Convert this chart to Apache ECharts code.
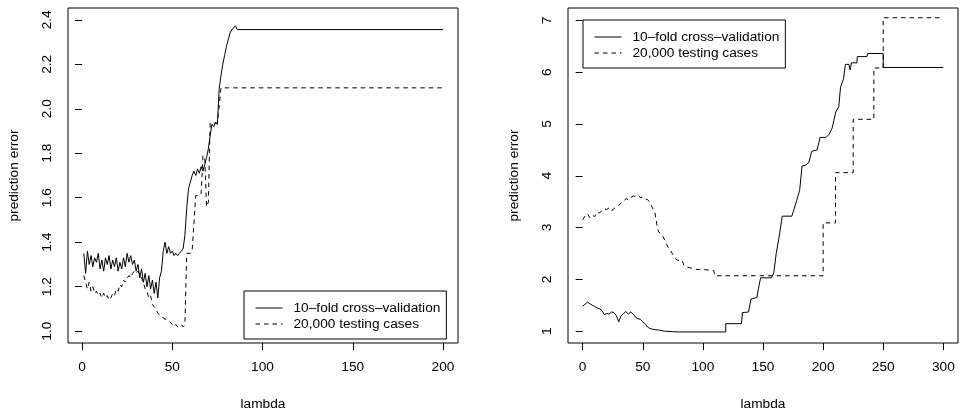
<!DOCTYPE html>
<html>
<head>
<meta charset="utf-8">
<title>prediction error vs lambda</title>
<script src="https://cdn.jsdelivr.net/npm/echarts@6/dist/echarts.min.js"></script>
<style>
  html, body { margin: 0; padding: 0; background: #fff; }
  #chart { width: 962px; height: 416px; }
</style>
</head>
<body>
<div id="chart"></div>
<script>
// left panel: lambda 1..86, then flat to 200
var leftLambda = [1, 2, 3, 4, 5, 6, 7, 8, 9, 10,
  11, 12, 13, 14, 15, 16, 17, 18, 19, 20,
  21, 22, 23, 24, 25, 26, 27, 28, 29, 30,
  31, 32, 33, 34, 35, 36, 37, 38, 39, 40,
  41, 42, 43, 44, 45, 46, 47, 48, 49, 50,
  51, 52, 53, 54, 55, 56, 57, 58, 59, 60,
  61, 62, 63, 64, 65, 66, 67, 68, 69, 70,
  71, 72, 73, 74, 75, 76, 77, 78, 79, 80,
  81, 82, 83, 84, 85, 86, 200]
var leftCv = [1.35, 1.26, 1.36, 1.30, 1.34, 1.29, 1.33, 1.31, 1.35, 1.28,
  1.32, 1.27, 1.33, 1.30, 1.34, 1.28, 1.32, 1.29, 1.33, 1.27,
  1.31, 1.28, 1.33, 1.29, 1.35, 1.31, 1.34, 1.30, 1.32, 1.27,
  1.30, 1.24, 1.28, 1.22, 1.26, 1.20, 1.25, 1.19, 1.23, 1.17,
  1.22, 1.15, 1.24, 1.27, 1.36, 1.40, 1.35, 1.38, 1.35, 1.36,
  1.34, 1.35, 1.34, 1.35, 1.35, 1.37, 1.43, 1.55, 1.64, 1.67,
  1.70, 1.72, 1.70, 1.73, 1.71, 1.74, 1.72, 1.75, 1.78, 1.82,
  1.88, 1.93, 1.92, 1.94, 1.93, 2.09, 2.15, 2.20, 2.24, 2.28,
  2.31, 2.34, 2.355, 2.36, 2.373, 2.356, 2.356]
var leftTest = [1.25, 1.22, 1.19, 1.22, 1.18, 1.20, 1.17, 1.18, 1.16, 1.17,
  1.15, 1.17, 1.15, 1.16, 1.14, 1.15, 1.17, 1.16, 1.19, 1.18,
  1.21, 1.20, 1.23, 1.22, 1.24, 1.25, 1.24, 1.26, 1.27, 1.26,
  1.27, 1.25, 1.24, 1.22, 1.19, 1.18, 1.15, 1.16, 1.12, 1.11,
  1.10, 1.08, 1.08, 1.07, 1.06, 1.06, 1.05, 1.05, 1.04, 1.03,
  1.02, 1.03, 1.02, 1.02, 1.03, 1.02, 1.03, 1.35, 1.35, 1.35,
  1.36, 1.36, 1.61, 1.61, 1.61, 1.62, 1.79, 1.78, 1.56, 1.58,
  1.935, 1.935, 1.935, 1.935, 1.935, 1.935, 2.094, 2.094, 2.094, 2.094,
  2.094, 2.094, 2.094, 2.094, 2.094, 2.094, 2.094]

// right panel
var rightCvX = [0, 2, 4, 6, 8, 10, 12, 14, 16, 18, 20, 22, 24, 26, 28, 30, 32, 34, 36, 38,
  40, 42, 44, 46, 48, 50, 52, 54, 56, 58, 60, 64, 68, 75, 80, 119, 119, 132, 133, 138,
  140, 145, 146, 148, 157, 159, 161, 163, 166, 174, 175.5, 178, 180.5, 182.5, 185, 188, 190.5, 195, 197.5, 202.5,
  205, 207.5, 210.5, 213, 214.5, 217, 218.5, 221.5, 222.5, 223.5, 228, 228.5, 236.5, 237, 250, 250, 300]
var rightCvY = [1.48, 1.52, 1.56, 1.53, 1.50, 1.48, 1.45, 1.43, 1.40, 1.32, 1.34, 1.33, 1.37, 1.36, 1.30, 1.18, 1.30, 1.34, 1.38, 1.33,
  1.37, 1.33, 1.27, 1.24, 1.23, 1.18, 1.14, 1.08, 1.05, 1.04, 1.03, 1.02, 1.00, 0.99, 0.985, 0.985, 1.145, 1.145, 1.36, 1.37,
  1.62, 1.65, 1.8, 2.03, 2.03, 2.13, 2.5, 2.76, 3.22, 3.22, 3.33, 3.52, 3.72, 4.19, 4.2, 4.25, 4.47, 4.5, 4.74, 4.74,
  4.8, 4.92, 5.23, 5.33, 5.71, 5.87, 6.15, 6.15, 6.04, 6.18, 6.18, 6.30, 6.30, 6.36, 6.36, 6.09, 6.09]
var rightTestX = [0, 2, 4, 6, 8, 10, 12, 14, 16, 18, 20, 22, 24, 26, 28, 30, 32, 34, 36, 38,
  40, 42, 44, 46, 48, 50, 52, 54, 56, 58, 60, 62, 63, 65, 67, 69, 71, 73, 75, 77,
  79, 83, 84, 86, 90, 95, 100, 105, 109, 110, 200, 200, 210.3, 210.3, 225, 225, 242.2, 242.2, 250, 250, 300]
var rightTestY = [3.15, 3.22, 3.27, 3.19, 3.24, 3.21, 3.30, 3.28, 3.33, 3.36, 3.35, 3.38, 3.32, 3.37, 3.40, 3.43, 3.47, 3.50, 3.56, 3.54,
  3.58, 3.61, 3.60, 3.62, 3.58, 3.59, 3.55, 3.54, 3.48, 3.38, 3.30, 3.02, 2.92, 2.88, 2.82, 2.72, 2.62, 2.56, 2.48, 2.40,
  2.37, 2.36, 2.28, 2.24, 2.22, 2.19, 2.19, 2.18, 2.17, 2.07, 2.07, 3.09, 3.09, 4.06, 4.06, 5.09, 5.09, 6.08, 6.08, 7.05, 7.05]

var leftXTicks = [0, 50, 100, 150, 200]
var leftYTicks = [1.0, 1.2, 1.4, 1.6, 1.8, 2.0, 2.2, 2.4]
var rightXTicks = [0, 50, 100, 150, 200, 250, 300]
var rightYTicks = [1, 2, 3, 4, 5, 6, 7]

var cvName = '10\u2013fold cross\u2013validation'
var testName = '20,000 testing cases'

function pairs (xs, ys) {
  var out = []
  for (var i = 0; i < xs.length; i++) out.push([xs[i], ys[i]])
  return out
}

var font = 'Liberation Sans, Arial, Helvetica, sans-serif'
var textStyle = { color: '#000', fontFamily: font, fontSize: 13.7 }

function xAxis (idx, min, max, ticks) {
  return {
    type: 'value',
    gridIndex: idx,
    min: min,
    max: max,
    name: 'lambda',
    nameLocation: 'middle',
    nameGap: 54,
    nameTextStyle: textStyle,
    axisLine: { show: false },
    axisTick: { show: true, length: 7, customValues: ticks, lineStyle: { color: '#000' } },
    axisLabel: { customValues: ticks, margin: 17, color: '#000', fontFamily: font, fontSize: 13.7 },
    splitLine: { show: false }
  }
}

function yAxis (idx, min, max, ticks, digits) {
  return {
    type: 'value',
    gridIndex: idx,
    min: min,
    max: max,
    name: 'prediction error',
    nameLocation: 'middle',
    nameGap: 47,
    nameTextStyle: textStyle,
    axisLine: { show: false },
    axisTick: { show: true, length: 7, customValues: ticks, lineStyle: { color: '#000' } },
    axisLabel: {
      customValues: ticks,
      rotate: 90,
      margin: 14,
      color: '#000',
      fontFamily: font,
      fontSize: 13.7,
      formatter: function (v) { return v.toFixed(digits) }
    },
    splitLine: { show: false }
  }
}

function lineSeries (name, idx, data, dashed) {
  return {
    name: name,
    type: 'line',
    xAxisIndex: idx,
    yAxisIndex: idx,
    data: data,
    symbol: 'none',
    silent: true,
    lineStyle: { color: '#000', width: 1, type: dashed ? [4.5, 4] : 'solid' },
    itemStyle: { color: '#000' }
  }
}

function legend (left, top) {
  return {
    left: left,
    top: top,
    orient: 'vertical',
    data: [cvName, testName],
    borderColor: '#000',
    borderWidth: 1,
    borderRadius: 0,
    padding: [10, 6, 8, 11],
    itemWidth: 27,
    itemHeight: 14,
    itemGap: 2,
    selectedMode: false,
    // hide the marker the line icon carries, keep only the line sample
    itemStyle: { opacity: 0 },
    lineStyle: { width: 1, color: '#000' },
    textStyle: { color: '#000', fontFamily: font, fontSize: 13.7, padding: [0, 0, 0, 6] }
  }
}

var chart = echarts.init(document.getElementById('chart'), null, { renderer: 'canvas' })
var option = {
  animation: false,
  backgroundColor: '#fff',
  grid: [
    { left: 68, top: 8, width: 390, height: 340, show: true, borderColor: '#000', borderWidth: 1 },
    { left: 568, top: 8, width: 390, height: 340, show: true, borderColor: '#000', borderWidth: 1 }
  ],
  legend: [legend(244, 291), legend(583, 20)],
  xAxis: [
    xAxis(0, -7.76, 208.3, leftXTicks),
    xAxis(1, -12.2, 312.2, rightXTicks)
  ],
  yAxis: [
    yAxis(0, 0.947, 2.453, leftYTicks, 1),
    yAxis(1, 0.772, 7.238, rightYTicks, 0)
  ],
  series: [
    lineSeries(cvName, 0, pairs(leftLambda, leftCv), false),
    lineSeries(testName, 0, pairs(leftLambda, leftTest), true),
    lineSeries(cvName, 1, pairs(rightCvX, rightCvY), false),
    lineSeries(testName, 1, pairs(rightTestX, rightTestY), true)
  ]
}
chart.setOption(option)
</script>
</body>
</html>
